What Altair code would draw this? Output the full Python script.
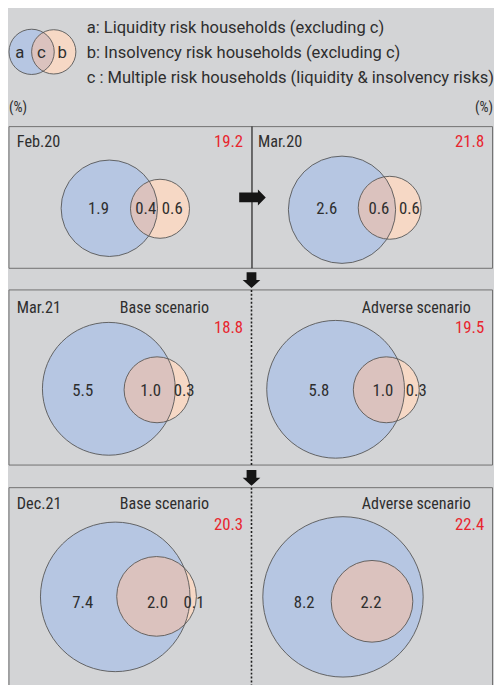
import altair as alt
import pandas as pd
import numpy as np

# ---------------- data values ----------------
panel_ids       = ["feb20", "mar20", "mar21_base", "mar21_adv", "dec21_base", "dec21_adv"]
liquidity_only  = ["1.9", "2.6", "5.5", "5.8", "7.4", "8.2"]   # a
multiple_risk   = ["0.4", "0.6", "1.0", "1.0", "2.0", "2.2"]   # c
insolvency_only = ["0.6", "0.6", "0.3", "0.3", "0.1", ""]      # b
totals          = ["19.2", "21.8", "18.8", "19.5", "20.3", "22.4"]

period_titles   = ["Feb.20", "Mar.20", "Mar.21", "Dec.21"]
scenario_titles = ["Base scenario", "Adverse scenario", "Base scenario", "Adverse scenario"]
legend_letters  = ["a", "c", "b"]
legend_lines    = ["a: Liquidity risk households (excluding c)",
                   "b: Insolvency risk households (excluding c)",
                   "c : Multiple risk households (liquidity & insolvency risks)"]
unit_labels     = ["(%)", "(%)"]

# ---------------- layout (pixel positions, kept apart from the values) ----------------
circle_layout = [
    ((111.0, 206.0, 49.0), (162.5, 206.5, 30.0), (100, 148, 175), 207, 247, 139),
    ((347.5, 207.5, 54.5), (396.0, 205.5, 32.0), (332, 385, 416), 207, 492, 139),
    ((110.5, 389.5, 67.5), (159.5, 390.5, 33.5), (84, 153, 187), 392, 247, 328),
    ((341.0, 390.0, 70.0), (392.5, 390.5, 33.5), (324, 389, 423), 392, 492, 328),
    ((117.0, 601.0, 76.0), (159.0, 600.5, 40.5), (84, 160, 197), 607, 247, 528),
    ((348.5, 601.0, 81.5), (378.0, 605.5, 41.5), (309, 377, 0), 607, 492, 528),
]
legend_circles = ((32.0, 47.0, 23.0), (54.5, 47.0, 22.5))
legend_letter_x = [20, 42, 63]
legend_letter_y = 48
legend_line_y = [23, 48, 74]
period_pos = [(17, 139), (262, 139), (17, 307), (17, 507)]
scenario_pos = [(167, 307), (423, 307), (167, 507), (423, 507)]
boxes = [(9, 500.5, 123, 267), (9, 500.5, 289, 467), (9, 500.5, 490, 700)]

BG = "#d3d4d6"
BLUE = "#b6c6e2"
ORANGE = "#f6d8c5"
OVER = "#dbc2be"
RED = "#e8252e"
DARK = "#2e2e2e"
NARROW = "'Roboto Condensed', 'DejaVu Sans Condensed', sans-serif"
NORMAL = "Roboto, 'Noto Sans', sans-serif"

X = lambda f: alt.X(f, type="quantitative", scale=alt.Scale(domain=[8, 502], nice=False, zero=False), axis=None)
Y = lambda f: alt.Y(f, type="quantitative", scale=alt.Scale(domain=[8, 685], nice=False, zero=False, reverse=True), axis=None)

# ---------------- build tables ----------------
circ_rows = []
lens_rows = []
def add_pair(pid, A, B):
    circ_rows.append(dict(pid=pid, x=A[0], y=A[1], s=(2 * A[2]) ** 2, fill=BLUE, o=0))
    circ_rows.append(dict(pid=pid, x=B[0], y=B[1], s=(2 * B[2]) ** 2, fill=ORANGE, o=1))
    y0 = max(A[1] - A[2], B[1] - B[2]); y1 = min(A[1] + A[2], B[1] + B[2])
    ys = np.linspace(y0, y1, 500)
    ha = np.sqrt(np.clip(A[2] ** 2 - (ys - A[1]) ** 2, 0, None))
    hb = np.sqrt(np.clip(B[2] ** 2 - (ys - B[1]) ** 2, 0, None))
    xl = np.maximum(A[0] - ha, B[0] - hb)
    xr = np.minimum(A[0] + ha, B[0] + hb)
    for yy, l, r in zip(ys, xl, xr):
        if l <= r:
            lens_rows.append(dict(pid=pid, y=float(yy), x=float(l), x2=float(r)))

for pid, lay in zip(panel_ids, circle_layout):
    add_pair(pid, lay[0], lay[1])
add_pair("legend", legend_circles[0], legend_circles[1])

circ_df = pd.DataFrame(circ_rows)
lens_df = pd.DataFrame(lens_rows)

val_rows = []
tot_rows = []
for i, lay in enumerate(circle_layout):
    for txt, lx in zip([liquidity_only[i], multiple_risk[i], insolvency_only[i]], lay[2]):
        if txt:
            val_rows.append(dict(x=lx, y=lay[3], t=txt))
    tot_rows.append(dict(x=lay[4], y=lay[5], t=totals[i]))
val_df = pd.DataFrame(val_rows)
tot_df = pd.DataFrame(tot_rows)

per_df = pd.DataFrame([dict(x=p[0], y=p[1], t=t) for t, p in zip(period_titles, period_pos)])
scn_df = pd.DataFrame([dict(x=p[0], y=p[1], t=t) for t, p in zip(scenario_titles, scenario_pos)])
leg_letters_df = pd.DataFrame([dict(x=x, y=legend_letter_y, t=t) for t, x in zip(legend_letters, legend_letter_x)])
leg_lines_df = pd.DataFrame([dict(x=88, y=y, t=t) for t, y in zip(legend_lines, legend_line_y)])
unit_left_df = pd.DataFrame([dict(x=9, y=104, t=unit_labels[0])])
unit_right_df = pd.DataFrame([dict(x=501, y=104, t=unit_labels[1])])
box_df = pd.DataFrame([dict(x=b[0], x2=b[1], y=b[2], y2=b[3]) for b in boxes])

solid_df = pd.DataFrame([dict(x=256, y=123, y2=267)])
dotted_df = pd.DataFrame([dict(x=255.5, y=289, y2=467), dict(x=255.5, y=490, y2=700)])
right_arrow_df = pd.DataFrame([dict(x=256.5, y=195)])
down_arrow_df = pd.DataFrame([dict(x=255.5, y=279), dict(x=255.5, y=480)])

RIGHT_ARROW = "M-1,-0.37L0.41,-0.37L0.41,-0.6L1,0L0.41,0.6L0.41,0.37L-1,0.37Z"
DOWN_ARROW = "M-0.62,-1L0.62,-1L0.62,0L1.12,0L0,1L-1.12,0L-0.62,0Z"

# ---------------- layers ----------------
frames = alt.Chart(box_df).mark_rect(fillOpacity=0, stroke="#6f6f6f", strokeWidth=1).encode(
    x=X("x"), x2="x2", y=Y("y"), y2="y2")

fills = alt.Chart(circ_df).mark_circle(opacity=1, strokeWidth=0).encode(
    x=X("x"), y=Y("y"), size=alt.Size("s:Q", scale=None),
    color=alt.Color("fill:N", scale=None), order=alt.Order("o:Q"))

lens = alt.Chart(lens_df).mark_area(orient="horizontal", color=OVER, opacity=1).encode(
    y=Y("y"), x=X("x"), x2="x2", detail="pid:N")

outlines = alt.Chart(circ_df).mark_point(shape="circle", filled=False, stroke="#555555",
                                         strokeWidth=0.9, opacity=1).encode(
    x=X("x"), y=Y("y"), size=alt.Size("s:Q", scale=None))

solid = alt.Chart(solid_df).mark_rule(color="#1e1e1e", strokeWidth=1.2).encode(x=X("x"), y=Y("y"), y2="y2")
dotted = alt.Chart(dotted_df).mark_rule(color="#1e1e1e", strokeWidth=1.6, strokeDash=[2, 2]).encode(
    x=X("x"), y=Y("y"), y2="y2")

right_arrow = alt.Chart(right_arrow_df).mark_point(shape=RIGHT_ARROW, filled=True, color="#151515",
                                                   opacity=1, size=27 ** 2).encode(x=X("x"), y=Y("y"))
down_arrow = alt.Chart(down_arrow_df).mark_point(shape=DOWN_ARROW, filled=True, color="#151515",
                                                 opacity=1, size=16 ** 2).encode(x=X("x"), y=Y("y"))

values = alt.Chart(val_df).mark_text(font=NARROW, fontSize=17, color=DARK, baseline="middle").encode(
    x=X("x"), y=Y("y"), text="t:N")
tots = alt.Chart(tot_df).mark_text(font=NARROW, fontSize=17, color=RED, baseline="middle", align="right").encode(
    x=X("x"), y=Y("y"), text="t:N")
pers = alt.Chart(per_df).mark_text(font=NARROW, fontSize=16.5, color=DARK, baseline="middle", align="left").encode(
    x=X("x"), y=Y("y"), text="t:N")
scns = alt.Chart(scn_df).mark_text(font=NARROW, fontSize=16.3, color=DARK, baseline="middle").encode(
    x=X("x"), y=Y("y"), text="t:N")
leg_letters = alt.Chart(leg_letters_df).mark_text(font=NORMAL, fontSize=17, color=DARK, baseline="middle").encode(
    x=X("x"), y=Y("y"), text="t:N")
leg_lines = alt.Chart(leg_lines_df).mark_text(font=NORMAL, fontSize=16.8, color=DARK, baseline="middle", align="left").encode(
    x=X("x"), y=Y("y"), text="t:N")
unit_left = alt.Chart(unit_left_df).mark_text(font=NARROW, fontSize=14.5, color=DARK, baseline="middle", align="left").encode(
    x=X("x"), y=Y("y"), text="t:N")
unit_right = alt.Chart(unit_right_df).mark_text(font=NARROW, fontSize=14.5, color=DARK, baseline="middle", align="right").encode(
    x=X("x"), y=Y("y"), text="t:N")

chart = alt.layer(
    frames, fills, lens, outlines, solid, dotted, right_arrow, down_arrow,
    values, tots, pers, scns, leg_letters, leg_lines, unit_left, unit_right
).properties(
    width=494, height=677, padding=0, autosize=alt.AutoSizeParams(type="none"), background=BG
).configure_view(stroke=None)

chart.save("out.html", embed_options={"renderer": "svg", "actions": False})
